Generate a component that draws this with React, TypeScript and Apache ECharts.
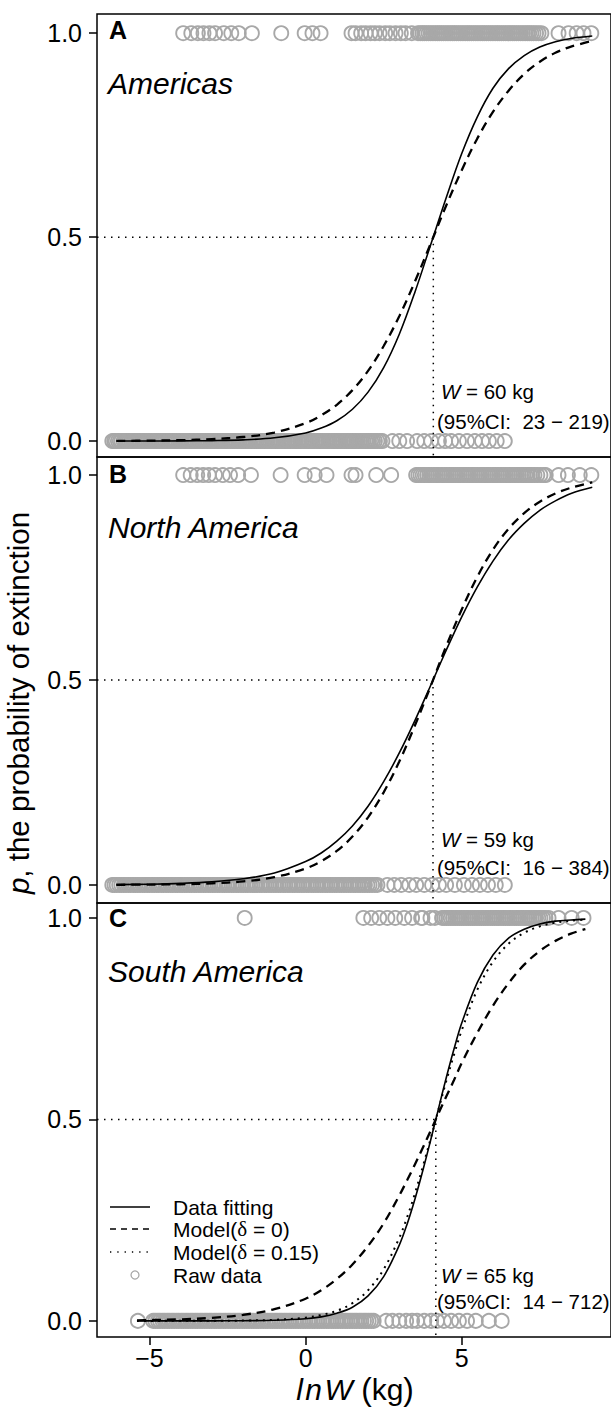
import React, { useEffect, useRef } from "react";
import * as echarts from "echarts";

const FONT = "Liberation Sans";

// Axis ranges / ticks
const X_MIN = -6.68;
const X_MAX = 9.78;
const X_TICKS = [-5, 0, 5];
const Y_TICKS = [0, 0.5, 1];
const Y_MIN = [-0.039, -0.044, -0.04];
const Y_MAX = [1.047, 1.044, 1.037];

// Panel text
const PANEL_LETTERS = ["A", "B", "C"];
const REGIONS = ["Americas", "North America", "South America"];
const W_KG = [60, 59, 65];
const CI_LOW = [23, 16, 14];
const CI_HIGH = [219, 384, 712];
const LN_W50 = [4.09, 4.08, 4.17];

// Raw data (lnW of species): extinct (p = 1) and surviving (p = 0)
const A_EXTINCT = [-3.92, -3.66, -3.45, -3.27, -3.08, -2.9, -2.62, -2.38, -2.14, -1.72, -0.78, -0.03, 0.22, 0.48, 1.47, 1.6, 1.78, 1.92, 2.08, 2.22, 2.37, 2.55, 2.7, 2.88, 3.05, 3.2, 3.4,
  3.6, 3.67, 3.74, 3.8, 3.87, 3.94, 4.01, 4.08, 4.15, 4.22, 4.28, 4.35, 4.42, 4.49, 4.56, 4.63, 4.7, 4.76, 4.83, 4.9, 4.97, 5.04, 5.11, 5.18, 5.24, 5.31, 5.38, 5.45, 5.52, 5.59, 5.66, 5.72, 5.79, 5.86, 5.93, 6.0, 6.07, 6.14, 6.2, 6.27, 6.34, 6.41, 6.48, 6.55, 6.62, 6.68, 6.75, 6.82, 6.89, 6.96, 7.03, 7.1, 7.16, 7.23, 7.3, 7.38, 7.46, 7.55,
  8.1, 8.42, 8.68, 8.9, 9.15];
const A_SURVIVED = [-6.19, -6.13, -6.08, -6.01, -5.95, -5.9, -5.83, -5.77, -5.72, -5.65, -5.59, -5.53, -5.47, -5.41, -5.34, -5.29, -5.22, -5.16, -5.11, -5.04, -4.98, -4.93, -4.86, -4.8, -4.74, -4.68, -4.62, -4.57, -4.5, -4.44, -4.38, -4.33, -4.26, -4.2, -4.15, -4.08, -4.02, -3.97, -3.9, -3.84, -3.79, -3.72, -3.66, -3.6, -3.55, -3.48, -3.42, -3.37, -3.3, -3.24, -3.19, -3.12, -3.06, -3.01, -2.94, -2.88, -2.83, -2.76, -2.7, -2.65, -2.58, -2.52, -2.47, -2.4, -2.34, -2.29, -2.22, -2.16, -2.11, -2.04, -1.98, -1.93, -1.86, -1.8, -1.75, -1.68, -1.62, -1.57, -1.5, -1.44, -1.39, -1.32, -1.26, -1.21, -1.14, -1.08, -1.03, -0.96, -0.9, -0.85, -0.78, -0.72, -0.67, -0.6, -0.54, -0.49, -0.42, -0.36, -0.31, -0.24, -0.18, -0.13, -0.06, 0.0, 0.05, 0.12, 0.18, 0.23, 0.3, 0.36, 0.41, 0.48, 0.54, 0.59, 0.66, 0.72, 0.77, 0.84, 0.9, 0.95, 1.02, 1.08, 1.13, 1.2, 1.26, 1.31, 1.38, 1.44, 1.49, 1.56, 1.62, 1.67, 1.74, 1.8, 1.85, 1.92, 1.98, 2.03, 2.1, 2.16, 2.22, 2.3, 2.38, 2.46,
  2.78, 3.0, 3.25, 3.57, 3.8, 4.02, 4.27, 4.47, 4.66, 4.91, 5.17, 5.42, 5.65, 5.87, 6.12, 6.38];
const B_EXTINCT = [-3.92, -3.68, -3.47, -3.28, -3.1, -2.9, -2.65, -2.42, -2.16, -1.75, -0.8, -0.03, 0.29, 0.67, 1.47, 1.6, 2.26, 2.74,
  3.54, 3.61, 3.68, 3.75, 3.82, 3.89, 3.96, 4.03, 4.1, 4.17, 4.24, 4.31, 4.38, 4.45, 4.52, 4.59, 4.66, 4.73, 4.8, 4.87, 4.94, 5.01, 5.08, 5.15, 5.22, 5.29, 5.36, 5.43, 5.5, 5.57, 5.64, 5.71, 5.78, 5.85, 5.92, 5.99, 6.06, 6.13, 6.2, 6.27, 6.34, 6.41, 6.48, 6.55, 6.62, 6.69, 6.76, 6.83, 6.9, 6.97, 7.04, 7.11, 7.18, 7.25, 7.33, 7.42, 7.52, 7.62, 7.69,
  8.1, 8.4, 8.78, 9.15];
const B_SURVIVED = [-6.19, -6.12, -6.05, -5.97, -5.9, -5.82, -5.75, -5.67, -5.6, -5.52, -5.45, -5.37, -5.3, -5.22, -5.15, -5.07, -5.0, -4.92, -4.85, -4.77, -4.7, -4.62, -4.55, -4.47, -4.4, -4.32, -4.25, -4.17, -4.1, -4.02, -3.95, -3.87, -3.8, -3.72, -3.65, -3.57, -3.5, -3.42, -3.35, -3.27, -3.2, -3.12, -3.05, -2.97, -2.9, -2.82, -2.75, -2.67, -2.6, -2.52, -2.45, -2.37, -2.3, -2.22, -2.15, -2.07, -2.0, -1.92, -1.85, -1.77, -1.7, -1.62, -1.55, -1.47, -1.4, -1.32, -1.25, -1.17, -1.1, -1.02, -0.95, -0.87, -0.8, -0.72, -0.65, -0.57, -0.5, -0.42, -0.35, -0.27, -0.2, -0.12, -0.05, 0.03, 0.1, 0.18, 0.25, 0.33, 0.4, 0.48, 0.55, 0.63, 0.7, 0.78, 0.85, 0.93, 1.0, 1.08, 1.15, 1.23, 1.3, 1.38, 1.45, 1.53, 1.6, 1.68, 1.75, 1.83, 1.9, 1.98, 2.05, 2.13, 2.22, 2.3,
  2.62, 2.84, 3.06, 3.32, 3.54, 3.8, 4.05, 4.27, 4.5, 4.78, 5.07, 5.33, 5.58, 5.84, 6.09, 6.38];
const C_EXTINCT = [-1.95, 1.85, 2.1, 2.36, 2.62, 2.87, 3.16, 3.41, 3.7, 3.74, 4.0, 4.14,
  4.37, 4.44, 4.51, 4.58, 4.65, 4.72, 4.79, 4.86, 4.93, 5.0, 5.07, 5.14, 5.21, 5.28, 5.35, 5.42, 5.49, 5.56, 5.63, 5.7, 5.77, 5.84, 5.91, 5.98, 6.05, 6.12, 6.19, 6.26, 6.33, 6.4, 6.47, 6.54, 6.61, 6.68, 6.75, 6.82, 6.89, 6.96, 7.03, 7.1, 7.17, 7.24, 7.31, 7.38, 7.45, 7.52, 7.6, 7.68, 7.78,
  8.1, 8.52, 8.9];
const C_SURVIVED = [-5.37, -4.88, -4.81, -4.73, -4.66, -4.58, -4.51, -4.43, -4.36, -4.28, -4.21, -4.13, -4.06, -3.98, -3.91, -3.83, -3.76, -3.68, -3.61, -3.53, -3.46, -3.38, -3.31, -3.23, -3.16, -3.08, -3.01, -2.93, -2.86, -2.78, -2.71, -2.63, -2.56, -2.48, -2.41, -2.33, -2.26, -2.18, -2.11, -2.03, -1.96, -1.88, -1.81, -1.73, -1.66, -1.58, -1.51, -1.43, -1.36, -1.28, -1.21, -1.13, -1.06, -0.98, -0.91, -0.83, -0.76, -0.68, -0.61, -0.53, -0.46, -0.38, -0.31, -0.23, -0.16, -0.08, -0.01, 0.07, 0.14, 0.22, 0.29, 0.37, 0.44, 0.52, 0.59, 0.67, 0.74, 0.82, 0.89, 0.97, 1.04, 1.12, 1.19, 1.27, 1.34, 1.42, 1.49, 1.57, 1.64, 1.72, 1.79, 1.87, 1.94, 2.02, 2.1, 2.18,
  2.58, 2.78, 3.0, 3.22, 3.41, 3.57, 3.8, 4.02, 4.21, 4.43, 4.66, 4.91, 5.17, 5.45, 5.87, 6.28];

// Fitted / model curves
const AB_CURVE_X = [-6.06, -5, -4, -3, -2, -1, 0, 0.5, 1, 1.5, 2, 2.5, 3, 3.5, 4, 4.5, 5, 5.5, 6, 6.5, 7, 7.5, 8, 8.5, 9.18];
const A_FIT = [0.0001, 0.0002, 0.0005, 0.0012, 0.003, 0.008, 0.02, 0.032, 0.05, 0.078, 0.12, 0.18, 0.262, 0.365, 0.48, 0.596, 0.705, 0.795, 0.865, 0.913, 0.945, 0.966, 0.979, 0.987, 0.993];
const A_MODEL0 = [0.0005, 0.0011, 0.0023, 0.005, 0.01, 0.021, 0.044, 0.063, 0.089, 0.125, 0.172, 0.233, 0.306, 0.391, 0.483, 0.577, 0.664, 0.742, 0.807, 0.859, 0.9, 0.93, 0.952, 0.967, 0.981];
const B_FIT = [0.0009, 0.0019, 0.0038, 0.0075, 0.015, 0.029, 0.057, 0.078, 0.107, 0.144, 0.192, 0.252, 0.322, 0.401, 0.486, 0.572, 0.654, 0.727, 0.79, 0.842, 0.882, 0.914, 0.937, 0.955, 0.97];
const B_MODEL0 = [0.0004, 0.0009, 0.0018, 0.004, 0.0087, 0.019, 0.04, 0.058, 0.083, 0.118, 0.165, 0.226, 0.301, 0.389, 0.484, 0.582, 0.672, 0.752, 0.818, 0.869, 0.907, 0.935, 0.955, 0.969, 0.982];
const C_CURVE_X = [-5.4, -5, -4, -3, -2, -1, 0, 0.5, 1, 1.5, 2, 2.5, 3, 3.25, 3.5, 3.75, 4, 4.25, 4.5, 4.75, 5, 5.5, 6, 6.5, 7, 7.5, 8, 8.5, 8.96];
const C_FIT = [0, 0, 0, 0.0001, 0.0004, 0.0016, 0.0054, 0.01, 0.019, 0.034, 0.062, 0.11, 0.188, 0.24, 0.302, 0.372, 0.447, 0.525, 0.602, 0.674, 0.739, 0.84, 0.908, 0.95, 0.972, 0.985, 0.992, 0.995, 0.997];
const C_MODEL015 = [0, 0, 0.0001, 0.0003, 0.0008, 0.0026, 0.008, 0.0145, 0.025, 0.044, 0.076, 0.128, 0.206, 0.257, 0.316, 0.382, 0.451, 0.523, 0.594, 0.66, 0.721, 0.822, 0.891, 0.936, 0.963, 0.979, 0.988, 0.993, 0.996];
const C_MODEL0 = [0.0015, 0.002, 0.0038, 0.0075, 0.015, 0.029, 0.055, 0.076, 0.104, 0.14, 0.186, 0.242, 0.311, 0.349, 0.388, 0.429, 0.471, 0.514, 0.556, 0.597, 0.64, 0.715, 0.782, 0.838, 0.884, 0.918, 0.943, 0.961, 0.972];

const GRID_TOP = [14, 457, 903];
const GRID_H = [443, 446, 434];

const pairs = (xs: number[], ys: number[]) => xs.map((x, i) => [x, ys[i]]);
const flat = (xs: number[], y: number) => xs.map((x) => [x, y]);

export default function App() {
  const ref = useRef<HTMLDivElement>(null);
  useEffect(() => {
    document.body.style.margin = "0";
    if (!ref.current) return;
    const chart = echarts.init(ref.current, undefined, { renderer: "svg" });

    const grids = [0, 1, 2].map((i) => ({
      left: 97,
      top: GRID_TOP[i],
      width: 516,
      height: GRID_H[i],
      show: true,
      borderColor: "#000",
      borderWidth: 1.5,
      backgroundColor: "transparent",
    }));

    const xAxes = [0, 1, 2].map((i) => ({
      type: "value",
      gridIndex: i,
      min: X_MIN,
      max: X_MAX,
      position: "bottom",
      axisLine: { show: false, onZero: false },
      splitLine: { show: false },
      axisTick: {
        show: i === 2,
        inside: false,
        length: 8,
        customValues: X_TICKS,
        lineStyle: { color: "#000", width: 1.5 },
      },
      axisLabel: {
        show: i === 2,
        customValues: X_TICKS,
        margin: 8,
        lineHeight: 25,
        fontFamily: FONT,
        fontSize: 25,
        color: "#000",
        formatter: (v: number) => (v < 0 ? "\u2212" + Math.abs(v) : String(v)),
      },
    }));

    const yAxes = [0, 1, 2].map((i) => ({
      type: "value",
      gridIndex: i,
      min: Y_MIN[i],
      max: Y_MAX[i],
      position: "left",
      axisLine: { show: false, onZero: false },
      splitLine: { show: false },
      axisTick: {
        show: true,
        inside: false,
        length: 8,
        customValues: Y_TICKS,
        lineStyle: { color: "#000", width: 1.5 },
      },
      axisLabel: {
        show: true,
        customValues: Y_TICKS,
        margin: 15,
        fontFamily: FONT,
        fontSize: 25,
        color: "#000",
        formatter: (v: number) => v.toFixed(1),
      },
    }));

    const pointStyle = {
      color: "rgba(255,255,255,0)",
      borderColor: "#a8a8a8",
      borderWidth: 1.9,
      opacity: 1,
    };
    const scatter = (i: number, ext: number[], surv: number[]) => ({
      type: "scatter",
      xAxisIndex: i,
      yAxisIndex: i,
      symbol: "circle",
      symbolSize: 14,
      itemStyle: pointStyle,
      z: 1,
      silent: true,
      large: false,
      progressive: 0,
      data: [...flat(ext, 1), ...flat(surv, 0)],
    });
    const curve = (i: number, xs: number[], ys: number[], type: any, width: number) => ({
      type: "line",
      xAxisIndex: i,
      yAxisIndex: i,
      showSymbol: false,
      smooth: 0.35,
      z: 3,
      silent: true,
      lineStyle: { color: "#000", width, type, cap: "butt" },
      data: pairs(xs, ys),
    });
    const refLine = (i: number) => ({
      type: "line",
      xAxisIndex: i,
      yAxisIndex: i,
      showSymbol: false,
      z: 2,
      silent: true,
      lineStyle: { color: "#000", width: 1.5, type: [1.5, 5.5] },
      data: [
        [X_MIN, 0.5],
        [LN_W50[i], 0.5],
        [LN_W50[i], Y_MIN[i]],
      ],
    });

    const series = [
      scatter(0, A_EXTINCT, A_SURVIVED),
      scatter(1, B_EXTINCT, B_SURVIVED),
      scatter(2, C_EXTINCT, C_SURVIVED),
      refLine(0),
      refLine(1),
      refLine(2),
      curve(0, AB_CURVE_X, A_FIT, "solid", 1.6),
      curve(0, AB_CURVE_X, A_MODEL0, [9, 6], 2.3),
      curve(1, AB_CURVE_X, B_FIT, "solid", 1.6),
      curve(1, AB_CURVE_X, B_MODEL0, [9, 6], 2.3),
      curve(2, C_CURVE_X, C_FIT, "solid", 1.6),
      curve(2, C_CURVE_X, C_MODEL0, [9, 6], 2.3),
      curve(2, C_CURVE_X, C_MODEL015, [2, 5], 2),
    ];

    const letterY = [30, 474, 918];
    const regionY = [83, 527, 971];
    const wY = [391, 839, 1275];
    const ciY = [421, 867, 1301];
    const txt = (x: number, y: number, text: string, extra: any = {}) => ({
      type: "text",
      x,
      y,
      silent: true,
      style: {
        text,
        fontFamily: FONT,
        fontSize: 20,
        fill: "#000",
        verticalAlign: "middle",
        align: "left",
        ...extra,
      },
    });
    const italicRich = (size: number, paren = 1) => ({
      i: { fontStyle: "italic", fontSize: size, fontFamily: FONT, fill: "#000", lineHeight: size },
      n: { fontSize: size, fontFamily: FONT, fill: "#000", lineHeight: size },
      p: { fontSize: size * paren, fontFamily: FONT, fill: "#000", lineHeight: size },
      d: { fontSize: size, fontFamily: "Liberation Serif", fill: "#000", lineHeight: size },
    });

    const graphics: any[] = [];
    [0, 1, 2].forEach((i) => {
      graphics.push(txt(109, letterY[i], PANEL_LETTERS[i], { fontSize: 25, fontWeight: "bold" }));
      graphics.push(txt(108, regionY[i], REGIONS[i], { fontSize: 30, fontStyle: "italic" }));
      graphics.push(
        txt(441, wY[i], `{i|W}{n| = ${W_KG[i]} kg}`, { rich: italicRich(20.5), fontSize: 20.5 })
      );
      graphics.push(
        txt(437, ciY[i], `(95%CI:  ${CI_LOW[i]} \u2212 ${CI_HIGH[i]})`, { fontSize: 20.5 })
      );
    });

    // Legend (panel C)
    const legY = [1207, 1229, 1252, 1275];
    const legX0 = 110;
    const legX1 = 150;
    graphics.push({
      type: "line",
      silent: true,
      shape: { x1: legX0, y1: legY[0], x2: legX1, y2: legY[0] },
      style: { stroke: "#000", lineWidth: 1.6 },
    });
    graphics.push({
      type: "line",
      silent: true,
      shape: { x1: legX0, y1: legY[1], x2: legX1, y2: legY[1] },
      style: { stroke: "#000", lineWidth: 1.6, lineDash: [6, 5] },
    });
    graphics.push({
      type: "line",
      silent: true,
      shape: { x1: legX0, y1: legY[2], x2: legX1, y2: legY[2] },
      style: { stroke: "#000", lineWidth: 1.3, lineDash: [1.3, 6] },
    });
    graphics.push({
      type: "circle",
      silent: true,
      shape: { cx: 135, cy: legY[3], r: 4 },
      style: { fill: "none", stroke: "#a8a8a8", lineWidth: 1.3 },
    });
    const legRich = italicRich(21);
    graphics.push(txt(173, legY[0], "Data fitting", { fontSize: 21 }));
    graphics.push(txt(173, legY[1], "{n|Model(}{d|\u03b4}{n| = 0)}", { rich: legRich, fontSize: 21, lineHeight: 21 }));
    graphics.push(txt(173, legY[2], "{n|Model(}{d|\u03b4}{n| = 0.15)}", { rich: legRich, fontSize: 21, lineHeight: 21 }));
    graphics.push(txt(173, legY[3], "Raw data", { fontSize: 21 }));

    // Axis titles
    graphics.push({
      type: "text",
      x: 355,
      y: 1389,
      silent: true,
      style: {
        text: "{i|l\u200An\u200AW} {p|(}{n|kg}{p|)}",
        rich: italicRich(30, 1.05),
        fontSize: 30,
        fontFamily: FONT,
        align: "center",
        verticalAlign: "middle",
        fill: "#000",
      },
    });
    graphics.push({
      type: "text",
      x: 18,
      y: 703,
      rotation: Math.PI / 2,
      silent: true,
      style: {
        text: "{i|p}{n|, the probability of extinction}",
        rich: italicRich(29.5),
        fontSize: 29.5,
        fontFamily: FONT,
        align: "center",
        verticalAlign: "middle",
        fill: "#000",
      },
    });

    chart.setOption({
      animation: false,
      backgroundColor: "#fff",
      grid: grids,
      xAxis: xAxes,
      yAxis: yAxes,
      series,
      graphic: { elements: graphics },
    });

    return () => chart.dispose();
  }, []);

  return <div ref={ref} style={{ width: 611, height: 1407 }} />;
}
